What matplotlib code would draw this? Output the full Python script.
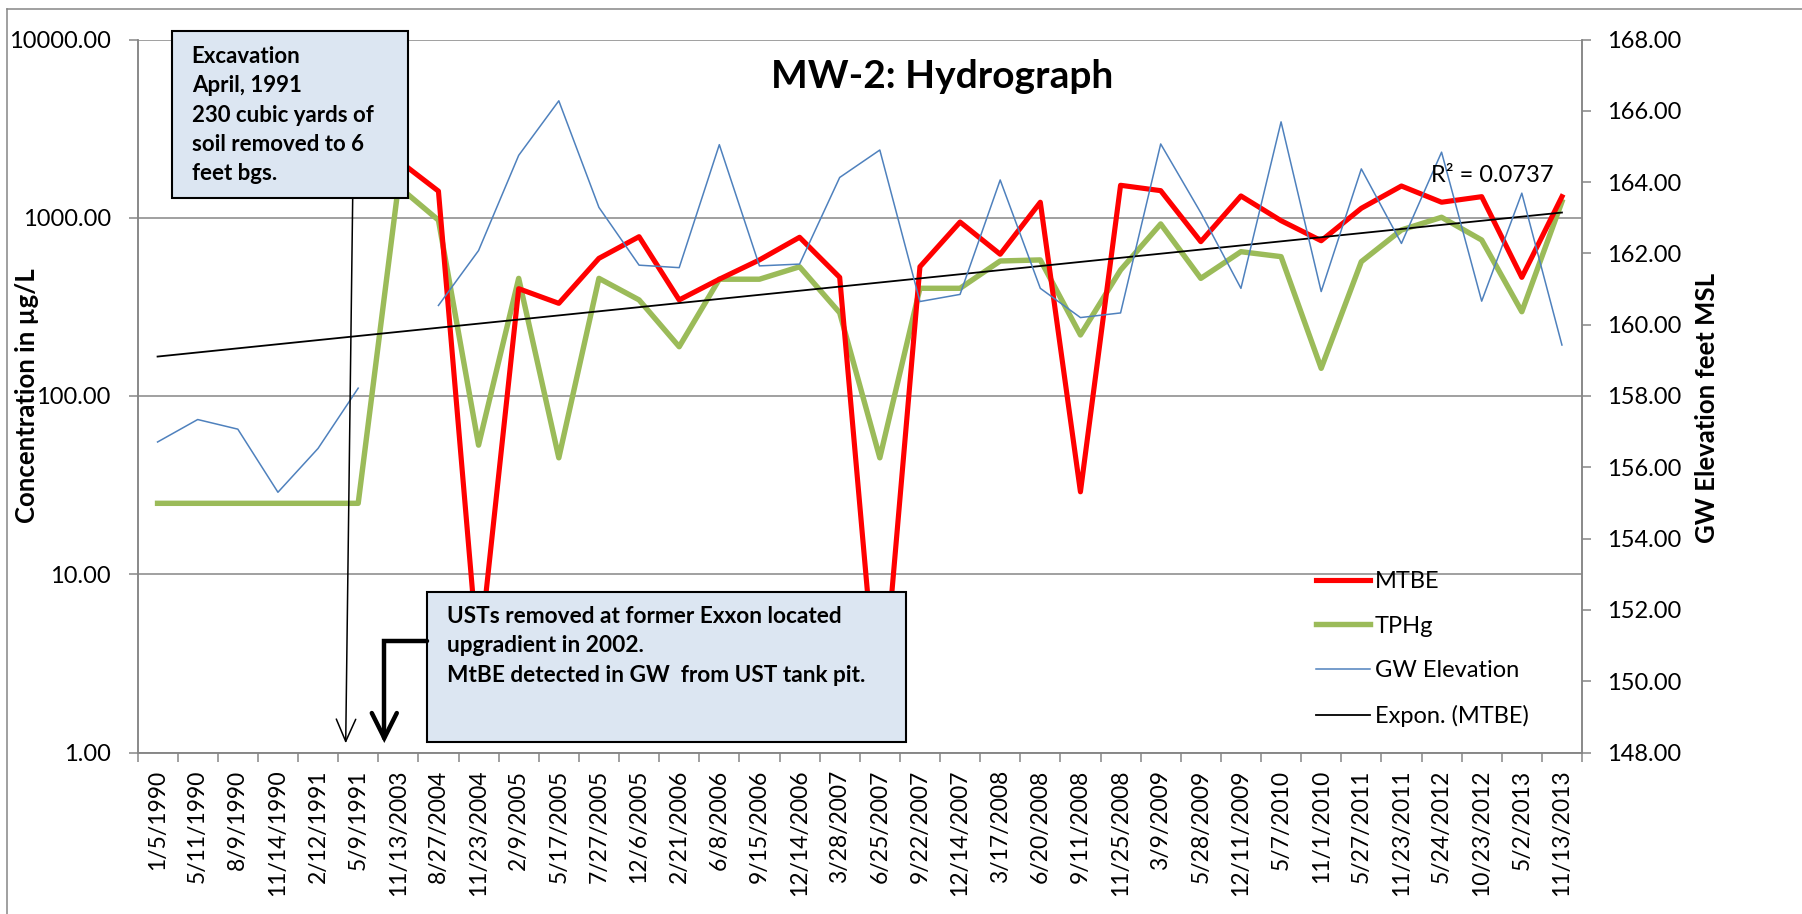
import numpy as np
import matplotlib.pyplot as plt
from matplotlib.patches import Rectangle, FancyArrowPatch
from matplotlib.lines import Line2D
from matplotlib.path import Path
from matplotlib.ticker import FixedLocator, NullLocator, FuncFormatter

plt.rcParams['font.family'] = ['Lato', 'DejaVu Sans']

# sampling dates (category axis)
dates = ["1/5/1990", "5/11/1990", "8/9/1990", "11/14/1990", "2/12/1991", "5/9/1991",
         "11/13/2003", "8/27/2004", "11/23/2004", "2/9/2005", "5/17/2005", "7/27/2005",
         "12/6/2005", "2/21/2006", "6/8/2006", "9/15/2006", "12/14/2006", "3/28/2007",
         "6/25/2007", "9/22/2007", "12/14/2007", "3/17/2008", "6/20/2008", "9/11/2008",
         "11/25/2008", "3/9/2009", "5/28/2009", "12/11/2009", "5/7/2010", "11/1/2010",
         "5/27/2011", "11/23/2011", "5/24/2012", "10/23/2012", "5/2/2013", "11/13/2013"]

nan = np.nan
# concentrations, ug/L
mtbe = [nan, nan, nan, nan, nan, nan,
        2100, 1410, 3.2, 400, 331, 592, 783, 346, 452, 580, 777, 463,
        1.3, 531, 946, 624, 1222, 29, 1521, 1419, 734, 1325, 963, 743,
        1130, 1507, 1222, 1313, 463, 1313]
tphg = [25, 25, 25, 25, 25, 25,
        1500, 970, 53, 457, 45, 457, 346, 189, 452, 452, 531, 293,
        45, 402, 402, 572, 580, 220, 509, 923, 457, 645, 605, 143,
        567, 854, 1006, 750, 297, 1230]
# groundwater elevation, feet MSL
gw_elev = [156.71, 157.34, 157.07, 155.30, 156.53, 158.22,
           nan, 160.54, 162.08, 164.75, 166.28, 163.29, 161.67, 161.60, 165.05, 161.65,
           161.70, 164.13, 164.90, 160.65, 160.85, 164.06, 161.02, 160.20, 160.33, 165.07,
           163.14, 161.02, 165.69, 160.93, 164.37, 162.28, 164.84, 160.66, 163.69, 159.43]

left_ticks = [1, 10, 100, 1000, 10000]
right_ticks = [148, 150, 152, 154, 156, 158, 160, 162, 164, 166, 168]

W, H = 1802, 914
GRID = '#868686'


def fx(px):
    return px / W


def fy(py):
    return 1 - py / H


fig = plt.figure(figsize=(W / 100, H / 100), dpi=100)
ax = fig.add_axes([fx(137.5), fy(752.5), 1444.5 / W, 713 / H])
ax2 = ax.twinx()

x = np.arange(len(dates))
mtbe_a = np.array(mtbe, dtype=float)
tphg_a = np.array(tphg, dtype=float)
gw_a = np.array(gw_elev, dtype=float)

# exponential trendline of MTBE (same as Excel: ln(y) linear in x)
ok = ~np.isnan(mtbe_a)
b, a = np.polyfit(x[ok], np.log(mtbe_a[ok]), 1)
trend = np.exp(a + b * x)

ax.plot(x, mtbe_a, color='#FF0000', lw=3.7, solid_joinstyle='round', zorder=3)
ax.plot(x, tphg_a, color='#9BBB59', lw=3.9, solid_joinstyle='round', zorder=2)
ax.plot(x, trend, color='black', lw=1.3, zorder=4)
ax2.plot(x, gw_a, color='#4F81BD', lw=1.1)

ax.set_yscale('log')
ax.set_ylim(1, 10000)
ax.set_xlim(-0.5, len(dates) - 0.5)
ax.yaxis.set_major_locator(FixedLocator(left_ticks))
ax.yaxis.set_minor_locator(NullLocator())
ax.yaxis.set_major_formatter(FuncFormatter(lambda v, p: f"{v:.2f}"))
ax.grid(axis='y', color=GRID, lw=1.1)
ax.set_axisbelow(True)

ax.set_xticks(np.arange(len(dates) + 1) - 0.5)
ax.set_xticklabels([])
ax.set_xticks(x, minor=True)
ax.set_xticklabels(dates, minor=True, rotation=90, fontsize=16.5)
ax.tick_params(axis='x', which='major', length=6.3, width=1.1, color=GRID)
ax.tick_params(axis='x', which='minor', length=0, pad=12.5)
ax.tick_params(axis='y', which='major', length=6.3, width=1.1, color=GRID,
               labelsize=17, pad=13)

ax2.set_ylim(148, 168)
ax2.yaxis.set_major_locator(FixedLocator(right_ticks))
ax2.yaxis.set_major_formatter(FuncFormatter(lambda v, p: f"{v:.2f}"))
ax2.tick_params(axis='y', length=6.3, width=1.1, color=GRID, labelsize=17, pad=11.5)

for a_ in (ax, ax2):
    a_.spines['top'].set_visible(False)
    for s in ('left', 'right', 'bottom'):
        a_.spines[s].set_color(GRID)
        a_.spines[s].set_linewidth(1.1)

# legend
handles = [Line2D([], [], color='#FF0000', lw=3.7),
           Line2D([], [], color='#9BBB59', lw=3.9),
           Line2D([], [], color='#4F81BD', lw=1.1),
           Line2D([], [], color='black', lw=1.3)]
labels = ["MTBE", "TPHg", "GW Elevation", "Expon. (MTBE)"]
leg = ax2.legend(handles, labels, loc='upper left', bbox_to_anchor=(fx(1316), fy(571)),
                 bbox_transform=fig.transFigure, frameon=False, borderpad=0,
                 borderaxespad=0, handlelength=2.3, handletextpad=0.2,
                 labelspacing=1.0, fontsize=17)

# titles and axis labels
fig.text(fx(942), fy(88.3), "MW-2: Hydrograph", ha='center', va='baseline',
         fontsize=28, fontweight='bold')
fig.text(fx(27), fy(396), "Concentration in µg/L", rotation=90, ha='center',
         va='center', fontsize=18.5, fontweight='bold')
fig.text(fx(1707), fy(408), "GW Elevation feet MSL", rotation=90, ha='center',
         va='center', fontsize=18.5, fontweight='bold')
fig.text(fx(1431), fy(181.7), "R² = 0.0737", ha='left', va='baseline', fontsize=17)

# outer chart border (top and left visible)
fig.add_artist(Line2D([fx(6.7), fx(6.7)], [0, fy(9.3)], color=GRID, lw=1.1,
                      transform=fig.transFigure))
fig.add_artist(Line2D([fx(6.7), 1], [fy(9.3), fy(9.3)], color=GRID, lw=1.1,
                      transform=fig.transFigure))

# annotation boxes
box_fc = '#DCE6F2'
fig.add_artist(Rectangle((fx(171.7), fy(197.7)), (408.3 - 171.7) / W, (197.7 - 30.7) / H,
                         transform=fig.transFigure, facecolor=box_fc, edgecolor='black',
                         lw=1.5, zorder=5))
box1_lines = ["Excavation", "April, 1991", "230 cubic yards of", "soil removed to 6", "feet bgs."]
for i, t in enumerate(box1_lines):
    fig.text(fx(191.7), fy(63.3 + i * 29.2), t, ha='left', va='baseline',
             fontsize=16, fontweight='bold', zorder=6)

fig.add_artist(Rectangle((fx(427), fy(741.7)), (906 - 427) / W, (741.7 - 591.7) / H,
                         transform=fig.transFigure, facecolor=box_fc, edgecolor='black',
                         lw=1.5, zorder=5))
box2_lines = ["USTs removed at former Exxon located", "upgradient in 2002.",
              "MtBE detected in GW  from UST tank pit."]
for i, t in enumerate(box2_lines):
    fig.text(fx(446.7), fy(623.3 + i * 29.2), t, ha='left', va='baseline',
             fontsize=16.3, fontweight='bold', zorder=6)

# arrows
arr1 = FancyArrowPatch((fx(352.7), fy(197.7)), (fx(345.7), fy(743.3)),
                       transform=fig.transFigure, arrowstyle='->,head_length=16,head_width=7',
                       mutation_scale=1, lw=1.1, color='black', shrinkA=0, shrinkB=0, zorder=6)
fig.add_artist(arr1)
elbow = Path([(fx(427), fy(640.7)), (fx(384.3), fy(640.7)), (fx(384.3), fy(743))],
             [Path.MOVETO, Path.LINETO, Path.LINETO])
arr2 = FancyArrowPatch(path=elbow, transform=fig.transFigure,
                       arrowstyle='->,head_length=18,head_width=9', mutation_scale=1,
                       lw=3.2, color='black', joinstyle='miter', zorder=6)
fig.add_artist(arr2)

fig.savefig("out.png", dpi=100, facecolor='white')
